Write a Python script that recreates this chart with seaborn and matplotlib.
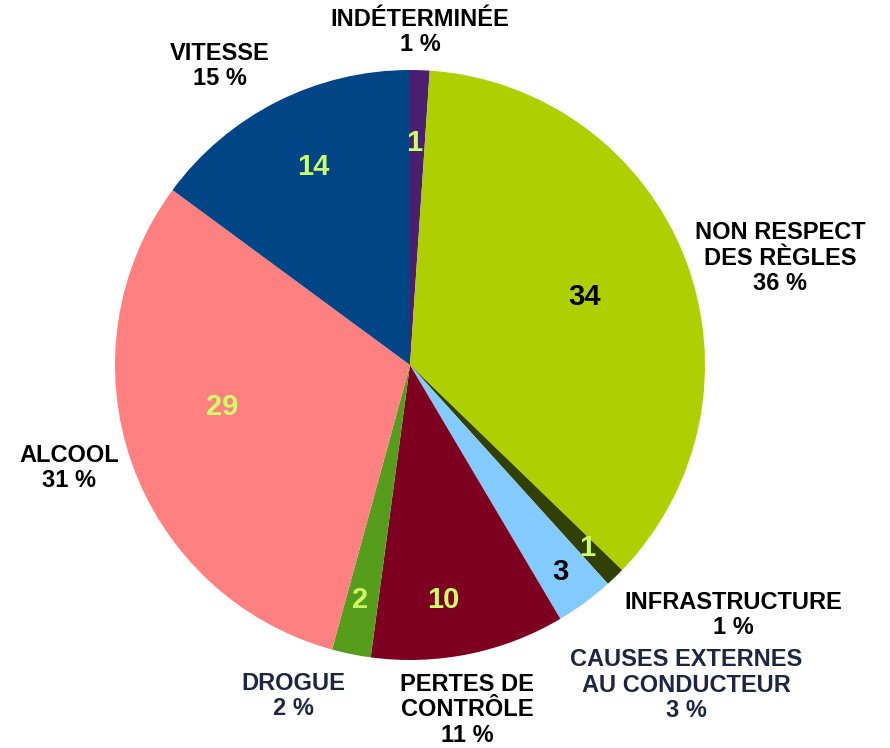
import matplotlib
matplotlib.use("Agg")
import matplotlib.pyplot as plt
import seaborn as sns

# accident causes, clockwise from the top
causes = ["INDÉTERMINÉE", "NON RESPECT\nDES RÈGLES", "INFRASTRUCTURE",
          "CAUSES EXTERNES\nAU CONDUCTEUR", "PERTES DE\nCONTRÔLE", "DROGUE",
          "ALCOOL", "VITESSE"]
counts = [1, 34, 1, 3, 10, 2, 29, 14]
percent_labels = ["1 %", "36 %", "1 %", "3 %", "11 %", "2 %", "31 %", "15 %"]

slice_colors = ["#4b1f6f", "#aecf00", "#314004", "#83caff",
                "#7e0021", "#579d1c", "#ff8080", "#004586"]
number_colors = ["#ccff66", "#000000", "#ccff66", "#000000",
                 "#ccff66", "#ccff66", "#ccff66", "#ccff66"]
name_colors = ["black", "black", "black", "#1e2444",
               "black", "#1e2444", "black", "black"]

# layout, in pixels of the 890x748 picture (y from top)
W, H = 890, 748
pie_center = (410, 365)
pie_radius = 295
number_pos = [(414, 143), (585, 297), (587, 548), (560, 572),
              (443, 600), (360, 600), (222, 407), (313, 167)]
name_pos = [(420, 32), (780, 258), (733, 615), (686, 685),
            (467, 710), (293, 696), (69, 468), (220, 66)]

sns.set_theme(style="white")
plt.rcParams["font.family"] = ["Liberation Sans", "DejaVu Sans"]

fig = plt.figure(figsize=(W / 100, H / 100), dpi=100)
ax = fig.add_axes([0, 0, 1, 1])
ax.pie(counts,
       colors=slice_colors,
       startangle=90,
       counterclock=False,
       center=(pie_center[0], H - pie_center[1]),
       radius=pie_radius,
       wedgeprops={"linewidth": 0})
ax.set_xlim(0, W)
ax.set_ylim(0, H)
ax.set_aspect("equal")
ax.axis("off")

for value, (x, y), color in zip(counts, number_pos, number_colors):
    ax.text(x, H - y, str(value),
            ha="center", va="center",
            fontsize=21, fontweight="bold",
            color=color)

for name, pct, (x, y), color in zip(causes, percent_labels, name_pos, name_colors):
    ax.text(x, H - y, f"{name}\n{pct}",
            ha="center", va="center",
            fontsize=17, fontweight="bold",
            linespacing=1.12,
            color=color)

fig.savefig("out.png", dpi=100)
